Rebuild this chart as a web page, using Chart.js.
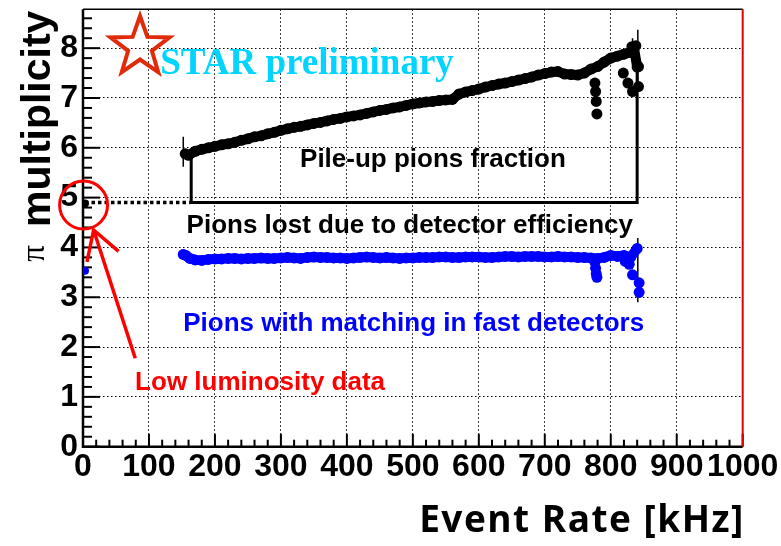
<!DOCTYPE html>
<html>
<head>
<meta charset="utf-8">
<script src="https://cdn.jsdelivr.net/npm/chart.js@4/dist/chart.umd.min.js"></script>
<style>
  html, body { margin: 0; padding: 0; background: #fff; }
  canvas { display: block; }
</style>
</head>
<body>
<canvas id="grafico" width="781" height="546"></canvas>
<script>
// event rate [kHz] and pi multiplicity
const rateBlack = [155, 160, 170, 180, 190, 200, 210, 220, 230, 240, 250, 260, 270, 280, 290, 300,
  310, 320, 330, 340, 350, 360, 370, 380, 390, 400, 410, 420, 430, 440, 450, 460, 470, 480, 490, 500,
  510, 520, 530, 540, 550, 560, 570, 580, 590, 600, 610, 620, 630, 640, 650, 660, 670, 680, 690, 700,
  710, 720, 730, 740, 750, 760, 770, 780, 790, 800, 810, 820, 830, 835, 840];
const multBlack = [5.88, 5.85, 5.93, 5.97, 6.00, 6.03, 6.06, 6.08, 6.11, 6.15, 6.18, 6.22, 6.24, 6.28, 6.31, 6.35,
  6.38, 6.41, 6.43, 6.46, 6.49, 6.51, 6.54, 6.57, 6.59, 6.62, 6.64, 6.66, 6.69, 6.72, 6.75, 6.77, 6.80, 6.82, 6.85, 6.88,
  6.90, 6.92, 6.93, 6.95, 6.96, 6.97, 7.08, 7.12, 7.15, 7.18, 7.22, 7.25, 7.28, 7.30, 7.33, 7.36, 7.39, 7.42, 7.46, 7.49,
  7.52, 7.53, 7.48, 7.47, 7.46, 7.50, 7.58, 7.63, 7.72, 7.80, 7.84, 7.88, 7.92, 8.02, 7.62];

const rateBlackOut = [776, 777, 778, 779, 819, 826, 833, 842, 842, 832, 838];
const multBlackOut = [7.30, 7.13, 6.93, 6.68, 7.50, 7.30, 7.13, 7.23, 7.63, 8.03, 8.05];

const rateBlue = [152, 156, 162, 170, 180, 190, 200, 210, 220, 230, 240, 250, 260, 270, 280, 290, 300,
  310, 320, 330, 340, 350, 360, 370, 380, 390, 400, 410, 420, 430, 440, 450, 460, 470, 480, 490, 500,
  510, 520, 530, 540, 550, 560, 570, 580, 590, 600, 610, 620, 630, 640, 650, 660, 670, 680, 690, 700,
  710, 720, 730, 740, 750, 760, 770, 780, 790, 800, 810, 820, 830, 840];
const multBlue = [3.86, 3.84, 3.78, 3.75, 3.74, 3.76, 3.77, 3.77, 3.78, 3.78, 3.77, 3.78, 3.78, 3.79, 3.78, 3.78, 3.79,
  3.80, 3.79, 3.78, 3.80, 3.81, 3.80, 3.80, 3.79, 3.79, 3.78, 3.79, 3.80, 3.81, 3.80, 3.79, 3.80, 3.79, 3.78, 3.79, 3.79,
  3.80, 3.80, 3.80, 3.81, 3.81, 3.80, 3.80, 3.81, 3.81, 3.81, 3.80, 3.80, 3.81, 3.82, 3.82, 3.81, 3.82, 3.82, 3.82, 3.81,
  3.81, 3.82, 3.81, 3.81, 3.80, 3.80, 3.79, 3.78, 3.80, 3.84, 3.82, 3.84, 3.80, 3.98];

const rateBlueOut = [776, 777, 778, 779, 822, 828, 833, 843, 843];
const multBlueOut = [3.70, 3.58, 3.47, 3.40, 3.72, 3.66, 3.45, 3.29, 3.10];

// low luminosity points
const rateLow = [3];
const multLowBlack = [4.88];
const multLowBlue = [3.53];

// vertical error bars
const errRate = [152, 841, 841, 833];
const errLow = [5.62, 7.30, 2.90, 8.00];
const errHigh = [6.22, 8.37, 4.19, 8.20];

// bracket between the two bands and the dotted low-luminosity level
const bracketRate = [164, 164, 840, 840];
const bracketMult = [5.88, 4.90, 4.90, 7.62];
const dottedRate = [3, 162];
const dottedMult = [4.90, 4.90];

const xTicks = [0, 100, 200, 300, 400, 500, 600, 700, 800, 900, 1000];
const yTicks = [0, 1, 2, 3, 4, 5, 6, 7, 8];

function pares(xs, ys) {
  const n = Math.min(xs.length, ys.length);
  const out = [];
  for (let i = 0; i < n; i++) out.push({ x: xs[i], y: ys[i] });
  return out;
}

const BLUE = '#0000ff';
const RED = '#ff0000';

const datasets = [];
datasets.push({ data: pares(rateLow, multLowBlack), showLine: false, pointRadius: 4, backgroundColor: '#000', borderWidth: 0 });
datasets.push({ data: pares(rateLow, multLowBlue), showLine: false, pointRadius: 4, backgroundColor: BLUE, borderWidth: 0 });
datasets.push({ data: pares(rateBlackOut, multBlackOut), showLine: false, pointRadius: 5.5, backgroundColor: '#000', borderWidth: 0 });
datasets.push({ data: pares(rateBlack, multBlack), showLine: true, borderColor: '#000', borderWidth: 10,
  pointRadius: 5.5, backgroundColor: '#000', pointBorderWidth: 0, borderJoinStyle: 'round', borderCapStyle: 'round' });
datasets.push({ data: pares(rateBlueOut, multBlueOut), showLine: false, pointRadius: 5.5, backgroundColor: BLUE, borderWidth: 0 });
datasets.push({ data: pares(rateBlue, multBlue), showLine: true, borderColor: BLUE, borderWidth: 10,
  pointRadius: 5.5, backgroundColor: BLUE, pointBorderWidth: 0, borderJoinStyle: 'round', borderCapStyle: 'round' });
for (let i = 0; i < errRate.length; i++) {
  datasets.push({ data: pares([errRate[i], errRate[i]], [errLow[i], errHigh[i]]), showLine: true,
    borderColor: '#000', borderWidth: 1.5, pointRadius: 0 });
}
datasets.push({ data: pares(dottedRate, dottedMult), showLine: true, borderColor: '#000', borderWidth: 3.5,
  borderDash: [3.5, 3], pointRadius: 0 });
datasets.push({ data: pares(bracketRate, bracketMult), showLine: true, borderColor: '#000', borderWidth: 3,
  pointRadius: 0 });

// frame and inward ROOT-style ticks
const molduraTicks = {
  id: 'molduraTicks',
  beforeDatasetsDraw(chart) {
    const { ctx, chartArea: a, scales: { x, y } } = chart;
    ctx.save();
    ctx.strokeStyle = '#000';
    ctx.lineWidth = 2;
    for (let v = 0; v <= 1000; v += 20) {
      const px = x.getPixelForValue(v);
      const len = v % 100 === 0 ? 13 : 7;
      ctx.beginPath(); ctx.moveTo(px, a.bottom); ctx.lineTo(px, a.bottom - len); ctx.stroke();
    }
    for (let i = 0; i <= 43; i++) {
      const py = y.getPixelForValue(i / 5);
      const len = i % 5 === 0 ? 17 : 9;
      ctx.beginPath(); ctx.moveTo(a.left, py); ctx.lineTo(a.left + len, py); ctx.stroke();
    }
    ctx.lineWidth = 2.5;
    ctx.beginPath(); ctx.moveTo(a.left, a.top); ctx.lineTo(a.left, a.bottom); ctx.lineTo(a.right, a.bottom); ctx.stroke();
    ctx.lineWidth = 1.5;
    ctx.beginPath(); ctx.moveTo(a.left, a.top); ctx.lineTo(a.right, a.top); ctx.stroke();
    ctx.strokeStyle = '#e00000';
    ctx.lineWidth = 2;
    ctx.beginPath(); ctx.moveTo(a.right, a.top); ctx.lineTo(a.right, a.bottom); ctx.stroke();
    ctx.restore();
  }
};

function estrela(ctx, cx, cy, R, r) {
  ctx.beginPath();
  for (let i = 0; i < 10; i++) {
    const ang = -Math.PI / 2 + i * Math.PI / 5;
    const rad = i % 2 ? r : R;
    ctx.lineTo(cx + rad * Math.cos(ang), cy + rad * Math.sin(ang));
  }
  ctx.closePath();
}

// labels, STAR logo, circle and arrows
const anotacoes = {
  id: 'anotacoes',
  afterDraw(chart) {
    const { ctx, scales: { x, y } } = chart;
    const X = v => x.getPixelForValue(v);
    const Y = v => y.getPixelForValue(v);
    ctx.save();

    ctx.font = 'bold 26px "Liberation Sans"';
    ctx.textAlign = 'left';
    ctx.textBaseline = 'middle';
    ctx.fillStyle = '#000';
    ctx.fillText('Pile-up pions fraction', X(329), Y(5.76));
    ctx.fillText('Pions lost due to detector efficiency', X(157), Y(4.43));
    ctx.fillStyle = BLUE;
    ctx.fillText('Pions with matching in fast detectors', X(152), Y(2.46));
    ctx.fillStyle = RED;
    ctx.fillText('Low luminosity data', X(79), Y(1.28));

    // STAR preliminary
    ctx.strokeStyle = '#e02a0a';
    ctx.lineWidth = 4;
    ctx.lineJoin = 'miter';
    estrela(ctx, 140, 47, 31, 12.5);
    ctx.stroke();
    ctx.font = 'bold 37px "Liberation Serif"';
    ctx.textBaseline = 'alphabetic';
    ctx.fillStyle = '#00d4ff';
    ctx.fillText('STAR preliminary', X(117), Y(7.48));

    // circle and arrow
    ctx.strokeStyle = RED;
    ctx.lineWidth = 3;
    ctx.beginPath();
    ctx.arc(X(0.9), Y(4.85), 24, 0, Math.PI * 2);
    ctx.stroke();
    ctx.lineWidth = 3.5;
    ctx.beginPath();
    ctx.moveTo(X(79.2), Y(1.775)); ctx.lineTo(X(16.1), Y(4.35));
    ctx.moveTo(X(6.1), Y(3.71)); ctx.lineTo(X(16.1), Y(4.35)); ctx.lineTo(X(53.9), Y(3.92));
    ctx.stroke();

    // axis titles
    ctx.fillStyle = '#000';
    ctx.font = 'bold 37px "Open Sans"';
    ctx.letterSpacing = '1.5px';
    ctx.textAlign = 'center';
    ctx.fillText('Event Rate [kHz]', 582, 532);
    ctx.letterSpacing = '0px';

    ctx.save();
    ctx.translate(50, 227);
    ctx.rotate(-Math.PI / 2);
    ctx.textAlign = 'left';
    ctx.font = 'bold 41px "Liberation Sans"';
    ctx.fillText('multiplicity', 0, 0);
    ctx.font = '33px "Liberation Serif"';
    ctx.textAlign = 'right';
    ctx.fillText('\u03c0', -18, -6);
    ctx.restore();

    ctx.restore();
  }
};

const fonteTicks = { family: 'Liberation Sans', size: 32, weight: 'bold' };

new Chart(document.getElementById('grafico').getContext('2d'), {
  type: 'scatter',
  data: { datasets: datasets },
  options: {
    responsive: false,
    animation: false,
    layout: { padding: { left: 0, right: 38.3, top: 9.3, bottom: 0 } },
    plugins: { legend: { display: false }, tooltip: { enabled: false } },
    elements: { line: { tension: 0 } },
    scales: {
      x: {
        type: 'linear', min: 0, max: 1000,
        afterFit: s => { s.height = 99.3; s.paddingLeft = 0; s.paddingRight = 0; },
        afterBuildTicks: s => { s.ticks = xTicks.map(v => ({ value: v })); },
        ticks: { font: fonteTicks, color: '#000', padding: 1, maxRotation: 0, autoSkip: false, includeBounds: false,
          callback: v => String(v) },
        grid: { color: '#000', lineWidth: 1, drawTicks: false },
        border: { display: false, dash: [1.5, 2.5] }
      },
      y: {
        min: 0, max: 8.78,
        afterFit: s => { s.width = 83; s.paddingTop = 0; s.paddingBottom = 0; },
        afterBuildTicks: s => { s.ticks = yTicks.map(v => ({ value: v })); },
        ticks: { font: fonteTicks, color: '#000', padding: 5, autoSkip: false, includeBounds: false,
          callback: v => String(v) },
        grid: { color: '#000', lineWidth: 1, drawTicks: false },
        border: { display: false, dash: [1.5, 2.5] }
      }
    }
  },
  plugins: [molduraTicks, anotacoes]
});
</script>
</body>
</html>
